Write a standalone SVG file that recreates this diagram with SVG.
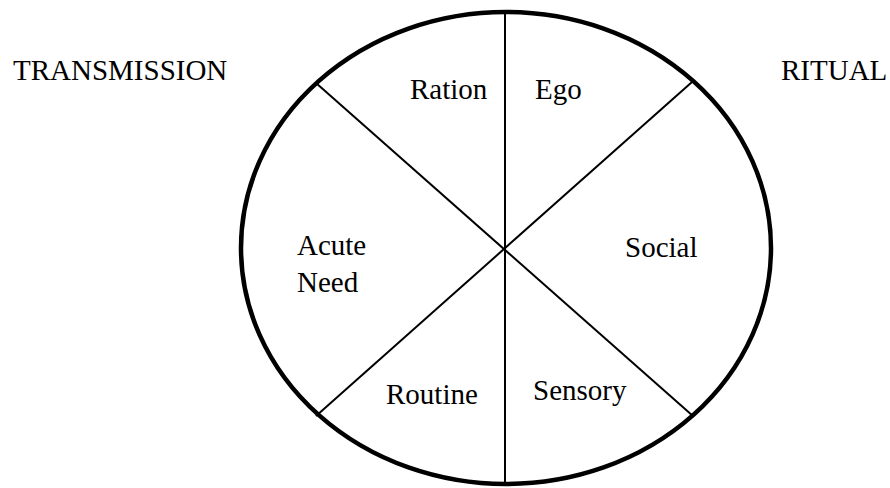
<svg xmlns="http://www.w3.org/2000/svg" width="890" height="488" viewBox="0 0 890 488">
<style>
.t{font-family:'Liberation Serif','Times New Roman','DejaVu Serif',serif;font-size:29px;fill:#000}
.ln{stroke:#000;stroke-width:2;fill:none}
.rim{stroke:#000;stroke-width:4.5;fill:#fff}
</style>
<rect width="890" height="488" fill="#fff"/>
<g id="wheel"><ellipse class="rim" cx="506" cy="248" rx="265" ry="236"/></g>
<g id="connectors">
<line class="ln" x1="505" y1="12" x2="505" y2="484"/>
<line class="ln" x1="316" y1="83" x2="693" y2="416"/>
<line class="ln" x1="692" y1="82" x2="316" y2="416"/>
</g>
<g id="transmission"><text class="t" x="13" y="80">TRANSMISSION</text></g>
<g id="ritual"><text class="t" x="781" y="80">RITUAL</text></g>
<g id="ration"><text class="t" x="410" y="99">Ration</text></g>
<g id="ego"><text class="t" x="535" y="99">Ego</text></g>
<g id="acute-need"><text class="t" x="297" y="255">Acute</text><text class="t" x="297" y="292">Need</text></g>
<g id="social"><text class="t" x="625" y="257">Social</text></g>
<g id="routine"><text class="t" x="386" y="404">Routine</text></g>
<g id="sensory"><text class="t" x="533" y="400">Sensory</text></g>
</svg>
